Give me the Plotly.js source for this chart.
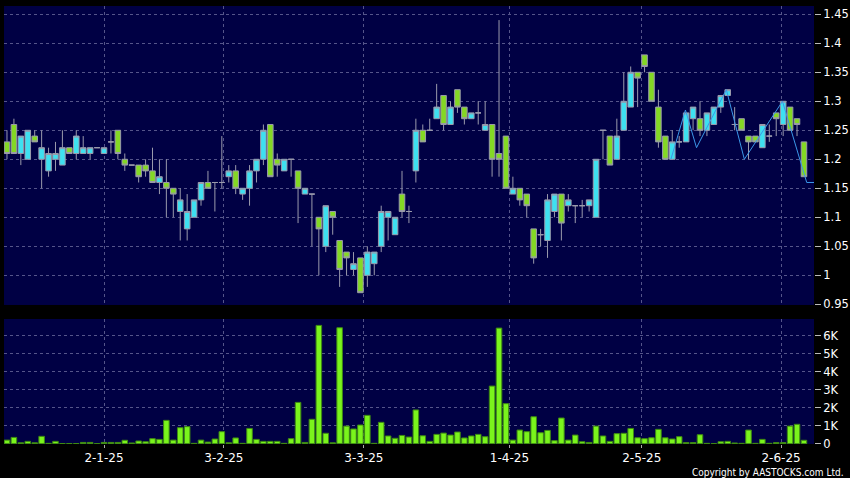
<!DOCTYPE html>
<html><head><meta charset="utf-8">
<script src="https://cdn.plot.ly/plotly-3.0.1.min.js"></script>
<style>html,body{margin:0;padding:0;background:#000;}#chart{width:850px;height:478px;}</style>
</head><body><div id="chart"></div>
<script>
// OHLC per trading day (bar index 0..115)
const openP  = [1.23,1.26,1.21,1.20,1.24,1.20,1.18,1.20,1.19,1.22,1.21,1.21,1.21,1.22,1.21,1.23,1.25,1.20,1.19,1.19,
                1.19,1.18,1.16,1.16,1.15,1.11,1.08,1.10,1.13,1.16,1.16,1.16,1.17,1.18,1.14,1.15,1.18,1.20,1.26,1.20,
                1.18,1.20,1.18,1.14,1.14,1.10,1.05,1.11,1.06,1.04,1.01,1.03,1.00,1.02,1.05,1.10,1.07,1.14,1.11,1.18,
                1.25,1.25,1.27,1.31,1.26,1.32,1.29,1.27,1.28,1.25,1.26,1.21,1.24,1.14,1.15,1.14,1.08,1.07,1.06,1.11,
                1.14,1.12,1.12,1.12,1.12,1.10,1.25,1.24,1.20,1.25,1.29,1.35,1.38,1.35,1.29,1.24,1.20,1.23,1.23,1.27,
                1.27,1.25,1.26,1.29,1.31,1.26,1.27,1.24,1.24,1.22,1.24,1.28,1.26,1.29,1.27,1.23];
const highP  = [1.25,1.27,1.24,1.25,1.25,1.25,1.22,1.23,1.25,1.22,1.25,1.24,1.22,1.22,1.22,1.25,1.25,1.21,1.19,1.19,
                1.20,1.22,1.20,1.20,1.15,1.15,1.14,1.13,1.16,1.18,1.16,1.24,1.19,1.19,1.15,1.19,1.20,1.26,1.26,1.21,
                1.20,1.20,1.18,1.15,1.14,1.10,1.12,1.11,1.06,1.04,1.04,1.03,1.05,1.04,1.12,1.11,1.10,1.18,1.12,1.27,
                1.26,1.27,1.33,1.31,1.30,1.32,1.29,1.28,1.30,1.30,1.26,1.44,1.24,1.17,1.15,1.14,1.08,1.08,1.14,1.14,
                1.14,1.14,1.12,1.13,1.13,1.20,1.25,1.24,1.27,1.35,1.36,1.35,1.38,1.35,1.32,1.24,1.25,1.24,1.28,1.29,
                1.30,1.28,1.29,1.31,1.32,1.29,1.27,1.24,1.24,1.26,1.26,1.28,1.30,1.29,1.27,1.23];
const lowP   = [1.20,1.21,1.19,1.20,1.23,1.15,1.17,1.18,1.19,1.21,1.20,1.21,1.20,1.22,1.21,1.21,1.20,1.18,1.19,1.16,
                1.17,1.16,1.14,1.10,1.10,1.06,1.06,1.10,1.12,1.15,1.11,1.15,1.16,1.14,1.13,1.12,1.16,1.19,1.17,1.17,
                1.18,1.17,1.09,1.14,1.05,1.00,1.04,1.07,0.98,1.00,1.00,0.97,0.98,1.00,1.04,1.06,1.07,1.10,1.09,1.16,
                1.23,1.25,1.27,1.25,1.26,1.28,1.26,1.27,1.26,1.25,1.17,1.17,1.15,1.14,1.12,1.10,1.02,1.05,1.03,1.10,
                1.06,1.11,1.09,1.10,1.11,1.10,1.20,1.19,1.20,1.25,1.29,1.29,1.35,1.30,1.22,1.20,1.20,1.22,1.23,1.25,
                1.24,1.24,1.26,1.28,1.31,1.25,1.25,1.20,1.23,1.22,1.23,1.24,1.24,1.25,1.24,1.17];
const closeP = [1.21,1.21,1.24,1.25,1.23,1.22,1.21,1.21,1.22,1.21,1.24,1.22,1.22,1.22,1.22,1.23,1.21,1.19,1.19,1.17,
                1.18,1.16,1.17,1.15,1.14,1.13,1.11,1.13,1.16,1.15,1.16,1.16,1.18,1.15,1.15,1.18,1.20,1.25,1.17,1.19,
                1.20,1.20,1.15,1.15,1.14,1.08,1.12,1.10,1.01,1.03,1.02,0.97,1.04,1.04,1.11,1.11,1.10,1.11,1.11,1.25,
                1.23,1.25,1.29,1.26,1.29,1.29,1.27,1.28,1.28,1.26,1.20,1.20,1.15,1.15,1.13,1.12,1.03,1.07,1.13,1.14,
                1.09,1.13,1.12,1.12,1.13,1.20,1.25,1.19,1.24,1.30,1.35,1.34,1.36,1.30,1.23,1.20,1.23,1.23,1.28,1.29,
                1.25,1.28,1.29,1.31,1.32,1.26,1.25,1.23,1.23,1.26,1.24,1.27,1.30,1.25,1.26,1.17];
// volume (shares)
const volume = [200,350,50,130,50,410,20,130,10,10,10,70,70,0,70,70,70,190,40,150,
                110,280,240,1300,200,890,950,20,200,90,260,670,50,320,20,850,240,130,130,130,
                20,280,2300,70,1360,6590,580,50,6460,980,820,1040,1580,20,1190,430,300,460,370,1880,
                440,130,520,590,480,650,320,430,520,390,3210,6440,2230,200,760,670,1500,610,740,170,
                1430,200,480,110,70,980,430,130,560,580,850,330,280,330,800,330,260,390,60,60,
                500,20,0,110,130,40,20,760,20,240,20,60,60,980,1080,190];
// thin overlay line (bar index, price)
const lineX = [95.8, 97.9, 99.5, 103.8, 106.4, 111.9, 115.4, 116.45];
const lineY = [1.20, 1.285, 1.22, 1.32, 1.20, 1.30, 1.16, 1.16];
// axis ticks
const dateTickIdx = [14, 31.3, 51.5, 72.5, 91.6, 111.7];
const dateTickLabels = ['2-1-25','3-2-25','3-3-25','1-4-25','2-5-25','2-6-25'];
const priceTicks = [0.95,1.00,1.05,1.10,1.15,1.20,1.25,1.30,1.35,1.40,1.45];
const priceLabels = ['0.95','1','1.05','1.1','1.15','1.2','1.25','1.3','1.35','1.4','1.45'];
const volTicks = [0,1000,2000,3000,4000,5000,6000];
const volLabels = ['0','1K','2K','3K','4K','5K','6K'];

const idx = openP.map((_, i) => i);
const gridC = '#55558a';
const font = 'DejaVu Sans, Verdana, sans-serif';

const traces = [
  {type:'candlestick', x: idx, open: openP, high: highP, low: lowP, close: closeP,
   xaxis:'x', yaxis:'y', whiskerwidth:0, hoverinfo:'skip',
   increasing:{line:{color:'#9a9aac', width:1}, fillcolor:'#3ee0f0'},
   decreasing:{line:{color:'#9a9aac', width:1}, fillcolor:'#84d824'}},
  {type:'scatter', mode:'lines', x: lineX, y: lineY, xaxis:'x', yaxis:'y',
   line:{color:'#3b97e8', width:1}, hoverinfo:'skip'},
  {type:'bar', x: idx, y: volume, xaxis:'x', yaxis:'y2', width:0.8,
   marker:{color:'#7af41c', line:{color:'#3e8a12', width:1}}, hoverinfo:'skip'}
];

const layout = {
  width:850, height:478,
  paper_bgcolor:'#000', plot_bgcolor:'#000044',
  margin:{l:4, r:36, t:6, b:34},
  showlegend:false,
  boxgap:0.2, boxgroupgap:0,
  xaxis:{range:[-0.43,116.45], anchor:'y2', tickmode:'array', tickvals: dateTickIdx, ticktext: dateTickLabels,
         showgrid:true, gridcolor:gridC, griddash:'3px,3px', gridwidth:1,
         ticks:'outside', ticklen:3, tickcolor:'#aaaaaa', zeroline:false, showline:false,
         tickfont:{family:font, size:12, color:'#ffffff'}, rangeslider:{visible:false}, fixedrange:true},
  yaxis:{domain:[0.3174,1], range:[0.9488,1.4643], side:'right', tickmode:'array',
         tickvals: priceTicks, ticktext: priceLabels, showgrid:true, gridcolor:gridC, griddash:'3px,3px',
         ticks:'outside', ticklen:6, tickcolor:'#bbbbbb', zeroline:false, showline:false,
         tickfont:{family:font, size:11.5, color:'#ffffff'}, fixedrange:true},
  yaxis2:{domain:[0,0.2854], range:[-17,6947], side:'right', tickmode:'array',
         tickvals: volTicks, ticktext: volLabels, showgrid:true, gridcolor:gridC, griddash:'3px,3px',
         ticks:'outside', ticklen:6, tickcolor:'#bbbbbb', zeroline:false, showline:false,
         tickfont:{family:font, size:11.5, color:'#ffffff'}, fixedrange:true},
  annotations:[{text:'Copyright by AASTOCKS.com Ltd.', xref:'paper', yref:'paper',
                x:1.0395, y:-0.066, xanchor:'right', yanchor:'middle', showarrow:false,
                font:{family:'DejaVu Sans Condensed, DejaVu Sans, sans-serif', size:10, color:'#ffffff'}}]
};

Plotly.newPlot('chart', traces, layout, {staticPlot:true, displayModeBar:false});
</script>
</body></html>
